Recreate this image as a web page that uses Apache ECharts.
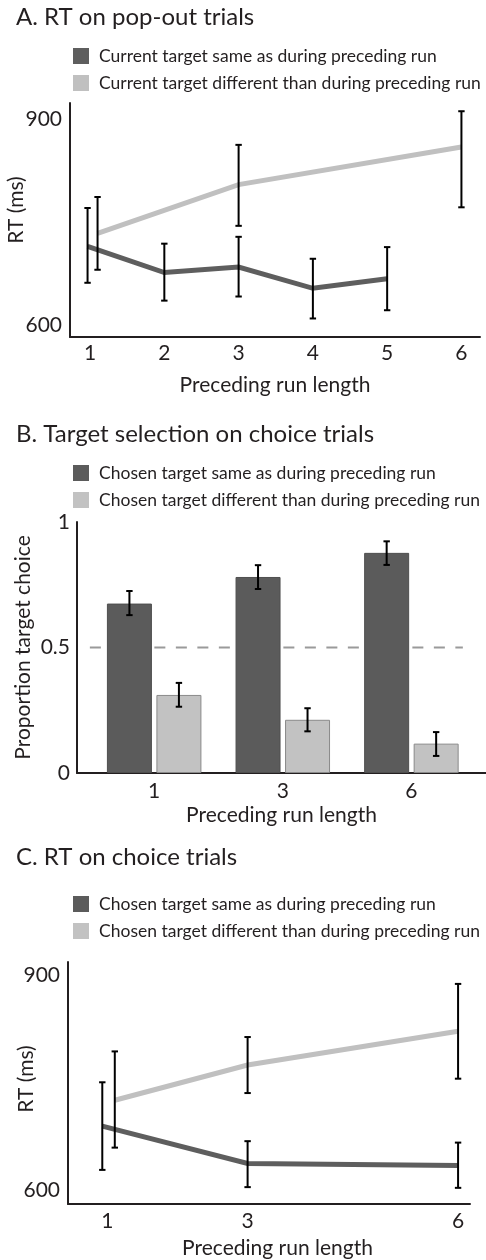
<!DOCTYPE html>
<html>
<head>
<meta charset="utf-8">
<script src="https://cdn.jsdelivr.net/npm/echarts@6/dist/echarts.min.js"></script>
<style>
html,body{margin:0;padding:0;background:#fff;}
#chart{width:486px;height:1260px;}
</style>
</head>
<body>
<div id="chart"></div>
<script>
// ---------- DATA ----------
// Panel A: RT on pop-out trials
const popoutRunTicks = [1, 2, 3, 4, 5, 6];
const popoutSameRuns = [1, 2, 3, 4, 5];
const popoutSameRT   = [715, 677, 685, 654, 668];
const popoutSameLo   = [662, 636, 642, 610, 622];
const popoutSameHi   = [771, 719, 729, 697, 714];
const popoutDiffRuns = [1, 3, 6];
const popoutDiffRT   = [734, 805, 860];
const popoutDiffLo   = [681, 745, 772];
const popoutDiffHi   = [787, 863, 912];

// Panel B: target selection on choice trials
const choiceCategories = ['1', '3', '6'];
const choiceSameProp   = [0.675, 0.781, 0.877];
const choiceSameLo     = [0.629, 0.733, 0.829];
const choiceSameHi     = [0.725, 0.828, 0.923];
const choiceDiffProp   = [0.311, 0.212, 0.117];
const choiceDiffLo     = [0.264, 0.166, 0.068];
const choiceDiffHi     = [0.359, 0.258, 0.163];
const chanceLevel      = 0.5;
const propTicks        = [0, 0.5, 1];

// Panel C: RT on choice trials
const choiceRuns   = [1, 3, 6];
const choiceSameRT = [690, 638, 635];
const choiceSameRTLo = [629, 605, 604];
const choiceSameRTHi = [751, 669, 667];
const choiceDiffRT = [726, 775, 822];
const choiceDiffRTLo = [660, 736, 756];
const choiceDiffRTHi = [794, 814, 888];
const rtTicks = [600, 900];

// ---------- NAMES ----------
const nameASame = 'Current target same as during preceding run';
const nameADiff = 'Current target different than during preceding run';
const nameSame  = 'Chosen target same as during preceding run';
const nameDiff  = 'Chosen target different than during preceding run';

// ---------- STYLE ----------
const FONT = 'Lato';
const INK = '#231f20';
const DARK = '#5e5e5e';
const LIGHT = '#c0c0c0';
const BAR_W = 45;
const BAR_GAP = 4.5;

function lineSeries(name, xi, runs, vals, color, dodgeFirst) {
  const data = runs.map((r, i) => [r, vals[i]]);
  return {
    type: 'custom', name, xAxisIndex: xi, yAxisIndex: xi, data,
    itemStyle: { color }, z: 2, silent: true,
    renderItem(params, api) {
      if (params.dataIndex !== 0) return null;
      const pts = data.map((d, i) => {
        const p = api.coord(d);
        if (i === 0) p[0] += dodgeFirst;
        return p;
      });
      return { type: 'polyline', shape: { points: pts },
        style: { stroke: color, lineWidth: 5, fill: null, lineJoin: 'miter' } };
    }
  };
}

function errSeries(name, xi, xs, lo, hi, dodgeFn) {
  const data = xs.map((x, i) => [x, lo[i], hi[i]]);
  return {
    type: 'custom', name: name + ' error', xAxisIndex: xi, yAxisIndex: xi, data,
    z: 4, silent: true,
    renderItem(params, api) {
      const a = api.coord([api.value(0), api.value(1)]);
      const b = api.coord([api.value(0), api.value(2)]);
      const dx = dodgeFn(params.dataIndex);
      const x = a[0] + dx;
      const c = 3.2;
      const st = { stroke: '#000', lineWidth: 2 };
      return { type: 'group', children: [
        { type: 'line', shape: { x1: x, y1: a[1], x2: x, y2: b[1] }, style: st },
        { type: 'line', shape: { x1: x - c, y1: a[1], x2: x + c, y2: a[1] }, style: st },
        { type: 'line', shape: { x1: x - c, y1: b[1], x2: x + c, y2: b[1] }, style: st }
      ] };
    }
  };
}

const axisLine = { show: true, onZero: false, lineStyle: { color: INK, width: 2 } };
const tickLabel = { fontSize: 21, color: INK, fontFamily: FONT };
const nameStyle = { fontSize: 21, color: INK, fontFamily: FONT };

const option = {
  animation: false,
  backgroundColor: '#fff',
  textStyle: { fontFamily: FONT, color: INK },
  title: [
    { text: 'A. RT on pop-out trials', left: 16, top: 5 },
    { text: 'B. Target selection on choice trials', left: 16, top: 422 },
    { text: 'C. RT on choice trials', left: 16, top: 845 }
  ].map(t => Object.assign(t, { padding: 0,
    textStyle: { fontSize: 24, fontWeight: 'normal', color: INK, fontFamily: FONT } })),
  legend: [
    { top: 47, data: [nameASame, nameADiff] },
    { top: 464, data: [nameSame, nameDiff] },
    { top: 895, data: [nameSame, nameDiff] }
  ].map(l => Object.assign(l, {
    orient: 'vertical', left: 73, itemWidth: 16, itemHeight: 16, itemGap: 9, icon: 'rect',
    selectedMode: false, padding: 0,
    itemStyle: { borderWidth: 0 },
    textStyle: { fontSize: 17.5, lineHeight: 16, color: INK, fontFamily: FONT, padding: [0, 0, 0, 5] }
  })),
  grid: [
    { left: 70, right: 6, top: 103, bottom: 1260 - 337 },
    { left: 77, right: 0, top: 522, bottom: 1260 - 773 },
    { left: 68, right: 16, top: 962, bottom: 1260 - 1204 }
  ].map(g => Object.assign(g, { containLabel: false, outerBoundsMode: 'none' })),
  xAxis: [
    { gridIndex: 0, type: 'value', min: 0.73, max: 6.25,
      axisLine, axisTick: { show: false }, splitLine: { show: false },
      axisLabel: Object.assign({ customValues: popoutRunTicks, margin: 6 }, tickLabel),
      name: 'Preceding run length', nameLocation: 'middle', nameGap: 38, nameTextStyle: nameStyle },
    { gridIndex: 1, type: 'value', min: -0.6, max: 2.58,
      axisLine, axisTick: { show: false }, splitLine: { show: false },
      axisLabel: Object.assign({ customValues: choiceCategories.map((c, i) => i), margin: 8,
        formatter: v => choiceCategories[Math.round(v)] }, tickLabel),
      name: 'Preceding run length', nameLocation: 'middle', nameGap: 32, nameTextStyle: nameStyle },
    { gridIndex: 2, type: 'value', min: 0.44, max: 6.17,
      axisLine, axisTick: { show: false }, splitLine: { show: false },
      axisLabel: Object.assign({ customValues: choiceRuns, margin: 7 }, tickLabel),
      name: 'Preceding run length', nameLocation: 'middle', nameGap: 34,
      nameTextStyle: Object.assign({ padding: [0, 0, 0, 17] }, nameStyle) }
  ],
  yAxis: [
    { gridIndex: 0, type: 'value', min: 583, max: 924,
      axisLine, axisTick: { show: false }, splitLine: { show: false },
      axisLabel: Object.assign({ customValues: rtTicks, margin: 8 }, tickLabel),
      name: 'RT (ms)', nameLocation: 'middle', nameGap: 43, nameRotate: 90, nameMoveOverlap: false,
      nameTextStyle: Object.assign({ padding: [0, 0, 0, 20] }, nameStyle) },
    { gridIndex: 1, type: 'value', min: 0, max: 1,
      axisLine, axisTick: { show: false }, splitLine: { show: false },
      axisLabel: Object.assign({ customValues: propTicks, margin: 7 }, tickLabel),
      name: 'Proportion target choice', nameLocation: 'middle', nameGap: 43, nameRotate: 90,
      nameMoveOverlap: false, nameTextStyle: nameStyle },
    { gridIndex: 2, type: 'value', min: 581.5, max: 918.5,
      axisLine, axisTick: { show: false }, splitLine: { show: false },
      axisLabel: Object.assign({ customValues: rtTicks, margin: 8 }, tickLabel),
      name: 'RT (ms)', nameLocation: 'middle', nameGap: 31, nameRotate: 90, nameMoveOverlap: false,
      nameTextStyle: Object.assign({ padding: [0, 0, 0, 8] }, nameStyle) }
  ],
  series: []
};

// Panel A
option.series.push(lineSeries(nameASame, 0, popoutSameRuns, popoutSameRT, DARK, -2.5));
option.series.push(lineSeries(nameADiff, 0, popoutDiffRuns, popoutDiffRT, LIGHT, 7.5));
option.series.push(errSeries(nameASame, 0, popoutSameRuns, popoutSameLo, popoutSameHi, i => i === 0 ? -2.5 : 0));
option.series.push(errSeries(nameADiff, 0, popoutDiffRuns, popoutDiffLo, popoutDiffHi, i => i === 0 ? 7.5 : 0));

// Panel B
const catIdx = choiceCategories.map((c, i) => i);
option.series.push({
  type: 'line', name: 'chance', xAxisIndex: 1, yAxisIndex: 1, silent: true, z: 1,
  symbol: 'none',
  data: [[-0.5, chanceLevel], [choiceCategories.length - 1 + 0.4, chanceLevel]],
  lineStyle: { color: '#9a9a9a', width: 2, type: [11, 10.5] }
});
option.series.push({
  type: 'bar', name: nameSame, xAxisIndex: 1, yAxisIndex: 1, z: 2,
  barWidth: BAR_W, barGap: (BAR_GAP / BAR_W * 100) + '%',
  data: catIdx.map(i => [i, choiceSameProp[i]]),
  itemStyle: { color: '#5b5b5b', borderColor: '#4f4f4f', borderWidth: 1 }
});
option.series.push({
  type: 'bar', name: nameDiff, xAxisIndex: 1, yAxisIndex: 1, z: 2,
  barWidth: BAR_W, barGap: (BAR_GAP / BAR_W * 100) + '%',
  data: catIdx.map(i => [i, choiceDiffProp[i]]),
  itemStyle: { color: '#c2c2c2', borderColor: '#8a8a8a', borderWidth: 1 }
});
const half = (BAR_W + BAR_GAP) / 2;
option.series.push(errSeries(nameSame, 1, catIdx, choiceSameLo, choiceSameHi, () => -half));
option.series.push(errSeries(nameDiff, 1, catIdx, choiceDiffLo, choiceDiffHi, () => half));

// Panel C
option.series.push(lineSeries(nameSame, 2, choiceRuns, choiceSameRT, DARK, -5));
option.series.push(lineSeries(nameDiff, 2, choiceRuns, choiceDiffRT, LIGHT, 7.5));
option.series.push(errSeries(nameSame, 2, choiceRuns, choiceSameRTLo, choiceSameRTHi, i => i === 0 ? -5 : 0));
option.series.push(errSeries(nameDiff, 2, choiceRuns, choiceDiffRTLo, choiceDiffRTHi, i => i === 0 ? 7.5 : 0));

const chart = echarts.init(document.getElementById('chart'), null, { renderer: 'canvas' });
chart.setOption(option);
</script>
</body>
</html>
